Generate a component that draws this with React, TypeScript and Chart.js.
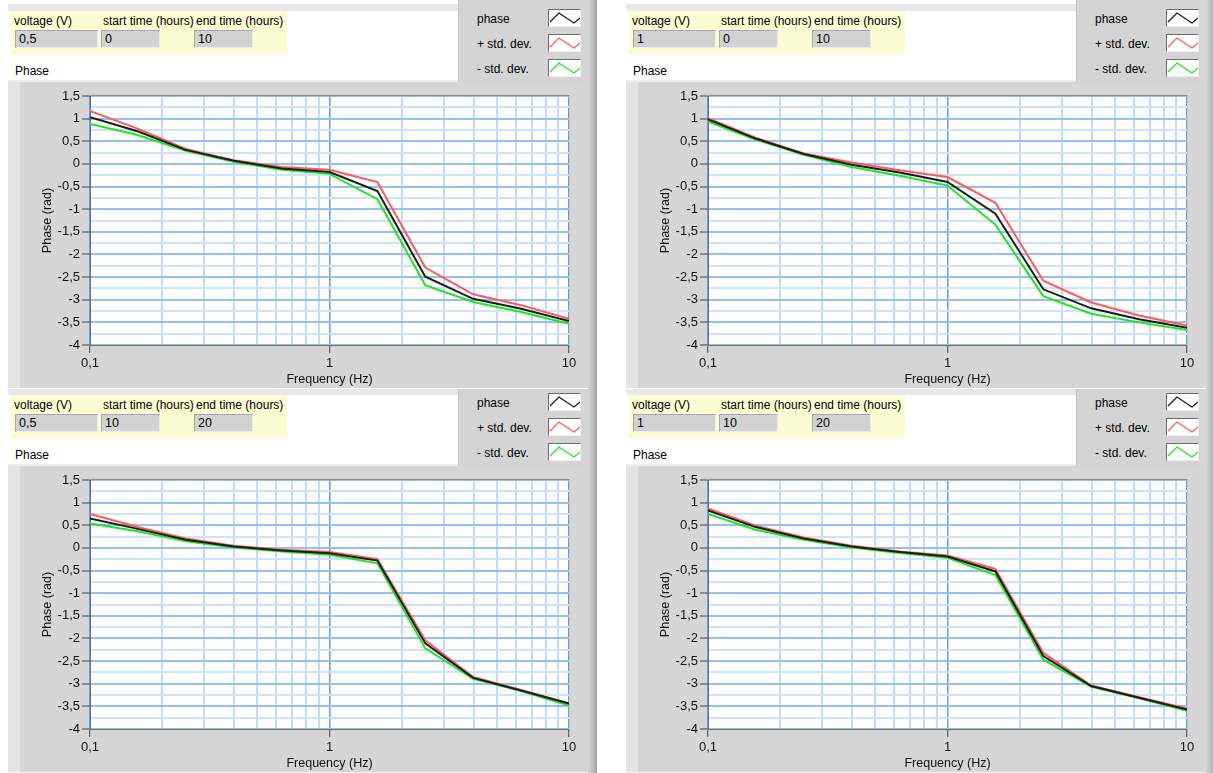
import React, { useEffect, useRef } from 'react';
import { Chart, registerables } from 'chart.js';

Chart.register(...registerables);

// ---------- data ----------
const frequencies = [0.1, 0.158, 0.251, 0.398, 0.631, 1, 1.585, 2.512, 3.981, 6.31, 10];

const xGridTicks = [0.1, 0.2, 0.3, 0.4, 0.5, 0.6, 0.7, 0.8, 0.9, 1, 2, 3, 4, 5, 6, 7, 8, 9, 10];
const xLabelTicks = [0.1, 1, 10];
const yGridTicks = [1.5, 1.25, 1, 0.75, 0.5, 0.25, 0, -0.25, -0.5, -0.75, -1, -1.25, -1.5, -1.75, -2, -2.25, -2.5, -2.75, -3, -3.25, -3.5, -3.75, -4];
const yLabelTicks = [1.5, 1, 0.5, 0, -0.5, -1, -1.5, -2, -2.5, -3, -3.5, -4];

const panelVoltages = ['0,5', '1', '0,5', '1'];
const panelStartTimes = ['0', '0', '10', '10'];
const panelEndTimes = ['10', '10', '20', '20'];

const legendLabels = ['phase', '+ std. dev.', '- std. dev.'];

// panel 1: 0,5 V, 0-10 h
const phase1 = [1.03, 0.72, 0.31, 0.07, -0.1, -0.18, -0.6, -2.49, -2.98, -3.2, -3.47];
const plus1 = [1.17, 0.78, 0.33, 0.08, -0.07, -0.13, -0.4, -2.29, -2.88, -3.12, -3.42];
const minus1 = [0.88, 0.64, 0.29, 0.05, -0.13, -0.22, -0.78, -2.68, -3.05, -3.27, -3.53];

// panel 2: 1 V, 0-10 h
const phase2 = [0.98, 0.56, 0.22, -0.02, -0.19, -0.4, -1.1, -2.77, -3.19, -3.43, -3.62];
const plus2 = [1.01, 0.58, 0.23, 0.03, -0.14, -0.29, -0.86, -2.58, -3.06, -3.35, -3.57];
const minus2 = [0.93, 0.54, 0.2, -0.07, -0.26, -0.48, -1.34, -2.92, -3.31, -3.5, -3.67];

// panel 3: 0,5 V, 10-20 h
const phase3 = [0.65, 0.42, 0.18, 0.03, -0.055, -0.12, -0.28, -2.11, -2.87, -3.15, -3.44];
const plus3 = [0.75, 0.46, 0.21, 0.05, -0.04, -0.09, -0.25, -2.04, -2.85, -3.14, -3.43];
const minus3 = [0.54, 0.37, 0.145, 0.01, -0.08, -0.15, -0.34, -2.22, -2.89, -3.16, -3.48];

// panel 4: 1 V, 10-20 h
const phase4 = [0.83, 0.46, 0.21, 0.03, -0.09, -0.19, -0.52, -2.39, -3.05, -3.31, -3.57];
const plus4 = [0.87, 0.49, 0.23, 0.05, -0.08, -0.17, -0.46, -2.32, -3.04, -3.3, -3.55];
const minus4 = [0.75, 0.4, 0.18, 0.01, -0.11, -0.22, -0.6, -2.47, -3.07, -3.32, -3.6];

const panelSeries = [
  [phase1, plus1, minus1],
  [phase2, plus2, minus2],
  [phase3, plus3, minus3],
  [phase4, plus4, minus4],
];

// ---------- styles ----------
const FONT = '"Liberation Sans", Arial, sans-serif';
const seriesColors = ['#1c1c1c', '#ff5a5a', '#1ee61e'];
const panelOffsets = [
  [0, 0],
  [618, 0],
  [0, 384],
  [618, 384],
];

const fmt = (v: number) => String(Math.round(v * 100) / 100).replace('.', ',');
const near = (a: number, list: number[]) => list.some((b) => Math.abs(a - b) < 1e-9);

const plotFrame = {
  id: 'plotFrame',
  beforeDraw(chart: any) {
    const { ctx, chartArea: a } = chart;
    ctx.save();
    ctx.fillStyle = '#ffffff';
    ctx.fillRect(a.left, a.top, a.right - a.left, a.bottom - a.top);
    ctx.restore();
  },
  afterDraw(chart: any) {
    const { ctx, chartArea: a } = chart;
    ctx.save();
    ctx.lineWidth = 1;
    ctx.beginPath();
    ctx.moveTo(Math.round(a.left) + 0.5, Math.round(a.top) - 0.5);
    ctx.lineTo(Math.round(a.right) + 0.5, Math.round(a.top) - 0.5);
    ctx.strokeStyle = '#8a8a8a';
    ctx.stroke();
    ctx.beginPath();
    ctx.strokeStyle = '#c8c8c8';
    ctx.moveTo(Math.round(a.right) + 0.5, Math.round(a.top) + 0.5);
    ctx.lineTo(Math.round(a.right) + 0.5, Math.round(a.bottom) + 0.5);
    ctx.stroke();
    ctx.restore();
  },
};

function GraphCanvas({ series }: { series: number[][] }) {
  const ref = useRef<HTMLCanvasElement>(null);
  useEffect(() => {
    const datasets = series.map((vals, i) => ({
      label: legendLabels[i],
      data: frequencies.map((f, j) => ({ x: f, y: vals[j] })),
      borderColor: seriesColors[i],
      backgroundColor: seriesColors[i],
      borderWidth: 2,
      pointRadius: 0,
      tension: 0,
      fill: false,
      order: i === 0 ? 0 : i,
    }));
    const chart = new Chart(ref.current as HTMLCanvasElement, {
      type: 'line',
      data: { datasets },
      options: {
        animation: false,
        responsive: false,
        events: [],
        layout: { padding: { top: 14, right: 19, left: 0, bottom: 0 } },
        plugins: { legend: { display: false }, tooltip: { enabled: false } },
        scales: {
          x: {
            type: 'logarithmic',
            min: 0.1,
            max: 10,
            afterBuildTicks: (s: any) => {
              s.ticks = xGridTicks.map((v) => ({ value: v, major: near(v, xLabelTicks) }));
            },
            afterFit: (s: any) => {
              s.height = 43;
            },
            ticks: {
              autoSkip: false,
              maxRotation: 0,
              minRotation: 0,
              padding: 3,
              color: '#111',
              font: { family: FONT, size: 13 },
              callback: (v: any) => (near(Number(v), xLabelTicks) ? fmt(Number(v)) : ''),
            },
            grid: {
              color: (c: any) => (c.tick && near(c.tick.value, xLabelTicks) ? '#5f9eec' : '#c0dbf8'),
              lineWidth: (c: any) => (c.tick && near(c.tick.value, xLabelTicks) ? 1.5 : 2),
              tickColor: (c: any) => (c.tick && near(c.tick.value, xLabelTicks) ? '#404040' : 'rgba(0,0,0,0)'),
              tickWidth: 1,
              tickLength: 8,
            },
            border: { display: true, color: '#707070' },
            title: {
              display: true,
              text: 'Frequency (Hz)',
              color: '#111',
              font: { family: FONT, size: 12.5 },
              padding: { top: 0, bottom: 1 },
            },
          },
          y: {
            type: 'linear',
            min: -4,
            max: 1.5,
            afterBuildTicks: (s: any) => {
              s.ticks = yGridTicks.map((v) => ({ value: v }));
            },
            afterFit: (s: any) => {
              s.width = 82;
            },
            ticks: {
              autoSkip: false,
              padding: 2,
              color: '#111',
              font: { family: FONT, size: 13 },
              callback: (v: any) => (near(Number(v), yLabelTicks) ? fmt(Number(v)) : ''),
            },
            grid: {
              color: (c: any) => (c.tick && near(c.tick.value, yLabelTicks) ? '#92c0f3' : '#cde3fa'),
              lineWidth: 2,
              tickColor: (c: any) => (c.tick && near(c.tick.value, yLabelTicks) ? '#404040' : 'rgba(0,0,0,0)'),
              tickWidth: 1,
              tickLength: 8,
            },
            border: { display: true, color: '#707070' },
            title: {
              display: true,
              text: 'Phase (rad)',
              color: '#111',
              font: { family: FONT, size: 12.5 },
              padding: { top: 32, bottom: 0 },
            },
          },
        },
      },
      plugins: [plotFrame],
    } as any);
    return () => chart.destroy();
  }, [series]);
  return (
    <canvas
      ref={ref}
      width={580}
      height={306}
      style={{
        position: 'absolute',
        left: 8,
        top: 82,
        width: 580,
        height: 306,
        background: 'linear-gradient(to right, #e4e4e4 0px, #e4e4e4 12px, #d6d6d6 12px)',
      }}
    />
  );
}

const textStyle: React.CSSProperties = {
  position: 'absolute',
  fontFamily: FONT,
  fontSize: 12,
  lineHeight: '14px',
  color: '#000',
  whiteSpace: 'nowrap',
};

function ValueBox({ left, width, text }: { left: number; width: number; text: string }) {
  return (
    <div
      style={{
        ...textStyle,
        left,
        top: 30,
        width,
        height: 18,
        lineHeight: '17px',
        fontSize: 12.5,
        background: '#d2d2d2',
        borderTop: '1px solid #a8a8a8',
        borderLeft: '1px solid #a8a8a8',
        borderBottom: '1px solid #ececec',
        borderRight: '1px solid #ececec',
        paddingLeft: 3,
        boxSizing: 'border-box',
      }}
    >
      {text}
    </div>
  );
}

function Swatch({ top, color }: { top: number; color: string }) {
  return (
    <div
      style={{
        position: 'absolute',
        left: 89,
        top,
        width: 33,
        height: 18,
        background: '#fff',
        borderTop: '1px solid #6a6a6a',
        borderLeft: '1px solid #6a6a6a',
        borderBottom: '1px solid #f0f0f0',
        borderRight: '1px solid #f0f0f0',
        boxSizing: 'border-box',
      }}
    >
      <svg width={31} height={16} style={{ position: 'absolute', left: 0, top: 0 }}>
        <polyline points="1,12 10,3 25,13 31,8" fill="none" stroke={color} strokeWidth={1.3} />
      </svg>
    </div>
  );
}

function Panel({ index }: { index: number }) {
  const [ox, oy] = panelOffsets[index];
  return (
    <div
      style={{
        position: 'absolute',
        left: ox,
        top: oy,
        width: 597,
        height: 389,
        background: '#fff',
        overflow: 'hidden',
        zIndex: oy === 0 ? 2 : 1,
      }}
    >
      <div style={{ position: 'absolute', left: 8, top: 4, width: 450, height: 7, background: '#e8e8e8' }} />
      <div style={{ position: 'absolute', left: 11, top: 11, width: 276, height: 43, background: '#fcfcd2' }} />
      <div style={{ ...textStyle, left: 14, top: 14 }}>voltage (V)</div>
      <div style={{ ...textStyle, left: 103, top: 14 }}>start time (hours)</div>
      <div style={{ ...textStyle, left: 196, top: 14 }}>end time (hours)</div>
      <ValueBox left={15} width={83} text={panelVoltages[index]} />
      <ValueBox left={101} width={59} text={panelStartTimes[index]} />
      <ValueBox left={194} width={59} text={panelEndTimes[index]} />
      <div style={{ ...textStyle, left: 15, top: 64 }}>Phase</div>
      <div style={{ position: 'absolute', left: 8, top: 80, width: 450, height: 2, background: '#ededed' }} />
      <div
        style={{
          position: 'absolute',
          left: 458,
          top: 0,
          width: 132,
          height: 82,
          background: '#d4d4d4',
          borderLeft: '1px solid #c4c4c4',
          boxSizing: 'border-box',
        }}
      >
        {legendLabels.map((l, i) => (
          <div key={l} style={{ ...textStyle, left: 18, top: 12 + i * 25 }}>
            {l}
          </div>
        ))}
        {seriesColors.map((c, i) => (
          <Swatch key={c} top={9 + i * 25} color={c} />
        ))}
      </div>
      <GraphCanvas series={panelSeries[index]} />
      <div
        style={{
          position: 'absolute',
          left: 588,
          top: 0,
          width: 9,
          height: 389,
          background: 'linear-gradient(to right, #d8d8d8, #c0c0c0 50%, #a4a4a4)',
        }}
      />
    </div>
  );
}

export default function App() {
  return (
    <div style={{ position: 'fixed', left: 0, top: 0, width: 1213, height: 773, background: '#fff', overflow: 'hidden' }}>
      {[0, 1, 2, 3].map((i) => (
        <Panel key={i} index={i} />
      ))}
    </div>
  );
}
